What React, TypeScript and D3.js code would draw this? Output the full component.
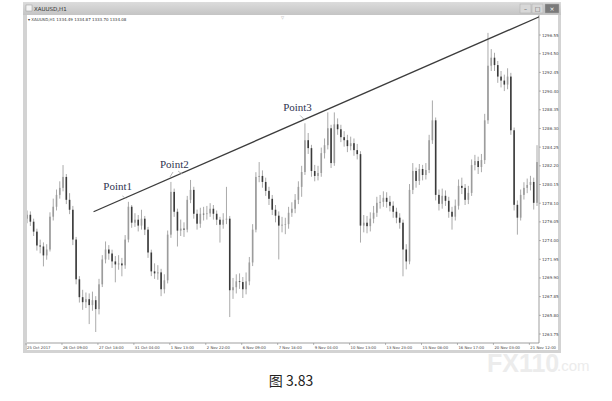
import React, { useEffect, useRef } from 'react';
import * as d3 from 'd3';

// XAUUSD H1, one candle per 3 hourly bars
const firstOpen = 1276.4;
const closes = [
  1276.83, 1276.07, 1274.98, 1273.46, 1273.35, 1272.37, 1273.02, 1276.62, 1277.71, 1279.01,
  1279.78, 1280.98, 1278.47, 1277.38, 1274.11, 1269.75, 1267.79, 1267.24, 1267.57, 1266.92,
  1267.46, 1266.48, 1269.2, 1271.93, 1273.02, 1272.58, 1271.71, 1271.38, 1271.49, 1271.28,
  1274.11, 1277.71, 1275.96, 1276.29, 1275.64, 1276.4, 1275.2, 1272.69, 1270.62, 1270.4,
  1270.51, 1268.66, 1269.64, 1274.65, 1279.34, 1277.16, 1275.09, 1275.31, 1275.2, 1278.47,
  1279.56, 1276.94, 1275.85, 1276.94, 1276.9, 1276.98, 1277.49, 1276.94, 1276.29, 1275.74,
  1276.29, 1276.4, 1268.55, 1268.88, 1269.53, 1269.45, 1268.66, 1269.53, 1271.6, 1275.2,
  1280.98, 1281.09, 1280.43, 1279.45, 1278.58, 1277.38, 1276.73, 1275.64, 1275.74, 1275.8,
  1277.05, 1277.49, 1278.47, 1279.89, 1281.52, 1285.01, 1284.14, 1281.63, 1281.09, 1281.41,
  1283.59, 1284.46, 1286.32, 1282.5, 1286.75, 1286.21, 1285.34, 1285.01, 1284.36, 1284.68,
  1283.92, 1283.48, 1275.64, 1275.96, 1275.58, 1276.4, 1277.05, 1278.14, 1278.25, 1278.69,
  1278.25, 1277.82, 1277.16, 1276.51, 1275.96, 1273.02, 1271.71, 1279.56, 1281.63, 1280.54,
  1281.85, 1281.19, 1281.74, 1285.01, 1287.19, 1279.01, 1278.03, 1278.91, 1278.36, 1277.16,
  1276.62, 1277.82, 1280.0, 1279.78, 1278.47, 1279.23, 1282.28, 1282.72, 1282.07, 1282.83,
  1287.19, 1293.18, 1294.06, 1293.25, 1291.99, 1291.55, 1291.11, 1291.99, 1286.1, 1277.92,
  1276.51, 1279.01, 1279.78, 1280.1, 1280.43, 1278.14, 1282.61,
];
const highs = [
  1277.3, 1277.2, 1276.4, 1275.3, 1274.1, 1273.8, 1273.6, 1277.1, 1278.6, 1279.6,
  1280.5, 1282.28, 1281.3, 1279.2, 1277.8, 1274.4, 1270.1, 1268.6, 1268.3, 1268.2,
  1268.4, 1267.9, 1269.8, 1272.4, 1273.9, 1273.5, 1273.0, 1272.3, 1272.4, 1272.1,
  1274.6, 1278.25, 1277.9, 1277.0, 1276.8, 1277.38, 1276.7, 1275.5, 1273.0, 1271.5,
  1271.3, 1270.9, 1270.3, 1275.1, 1280.43, 1279.7, 1277.5, 1276.3, 1276.0, 1278.9,
  1280.65, 1279.9, 1277.4, 1277.6, 1277.7, 1277.8, 1278.1, 1277.9, 1277.3, 1276.6,
  1277.0, 1279.89, 1276.7, 1269.9, 1270.3, 1270.4, 1270.0, 1270.5, 1272.2, 1275.8,
  1281.5, 1282.61, 1281.7, 1280.9, 1279.9, 1279.0, 1277.9, 1277.2, 1276.6, 1276.5,
  1277.7, 1278.2, 1279.1, 1280.5, 1282.2, 1286.86, 1285.8, 1284.5, 1282.3, 1282.2,
  1284.2, 1285.2, 1288.06, 1286.7, 1288.06, 1287.4, 1286.7, 1286.0, 1285.6, 1285.4,
  1285.2, 1284.6, 1283.8, 1276.8, 1276.7, 1277.1, 1277.8, 1278.8, 1279.0, 1279.4,
  1279.3, 1278.9, 1278.3, 1277.6, 1277.0, 1276.3, 1273.6, 1280.2, 1282.5, 1282.0,
  1282.4, 1282.3, 1282.5, 1285.6, 1289.37, 1287.5, 1279.6, 1279.7, 1279.5, 1278.8,
  1277.7, 1278.5, 1280.7, 1280.9, 1280.2, 1280.0, 1282.9, 1283.4, 1283.2, 1283.5,
  1287.9, 1296.78, 1295.0, 1294.6, 1293.7, 1292.6, 1292.2, 1292.9, 1292.4, 1286.4,
  1278.4, 1279.6, 1280.4, 1280.8, 1281.1, 1280.9, 1284.46,
];
const lows = [
  1275.9, 1275.6, 1274.5, 1272.9, 1272.6, 1271.17, 1271.9, 1272.8, 1276.2, 1277.3,
  1278.6, 1279.4, 1278.0, 1276.9, 1273.5, 1269.2, 1267.2, 1266.4, 1266.6, 1264.84,
  1266.3, 1263.97, 1265.9, 1268.9, 1271.5, 1271.9, 1271.0, 1269.42, 1270.8, 1270.08,
  1270.9, 1273.8, 1275.4, 1275.5, 1275.0, 1275.2, 1274.6, 1272.1, 1270.1, 1269.8,
  1269.7, 1267.9, 1268.2, 1269.3, 1274.3, 1276.6, 1273.35, 1274.5, 1274.4, 1274.9,
  1278.1, 1276.4, 1275.2, 1275.4, 1276.2, 1276.3, 1276.6, 1276.3, 1275.7, 1273.78,
  1275.3, 1275.8, 1265.61, 1267.6, 1268.2, 1268.7, 1267.7, 1268.1, 1269.1, 1271.2,
  1274.9, 1280.4, 1279.8, 1278.9, 1277.9, 1276.8, 1276.0, 1271.93, 1274.9, 1274.7,
  1275.3, 1276.6, 1277.0, 1278.0, 1278.8, 1281.2, 1283.5, 1281.0, 1280.5, 1280.6,
  1281.0, 1283.0, 1284.0, 1281.96, 1282.2, 1285.6, 1284.8, 1284.3, 1283.7, 1283.9,
  1283.3, 1282.9, 1273.78, 1274.9, 1274.8, 1275.0, 1275.9, 1276.6, 1277.5, 1277.7,
  1277.6, 1277.2, 1276.5, 1275.9, 1275.3, 1270.08, 1270.84, 1271.4, 1279.1, 1279.8,
  1280.1, 1280.6, 1280.7, 1281.4, 1284.6, 1278.4, 1277.3, 1277.5, 1277.8, 1276.5,
  1275.2, 1276.2, 1277.4, 1279.1, 1277.9, 1278.0, 1278.9, 1281.7, 1281.3, 1281.5,
  1282.4, 1286.8, 1292.6, 1292.6, 1291.3, 1290.8, 1290.4, 1290.6, 1285.6, 1277.3,
  1274.65, 1276.2, 1278.5, 1279.2, 1279.5, 1277.4, 1277.8,
];

const priceTicks = [
  1263.75, 1265.8, 1267.85, 1269.9, 1271.95, 1274.0, 1276.05, 1278.1, 1280.15,
  1282.2, 1284.25, 1286.3, 1288.35, 1290.4, 1292.45, 1294.5, 1296.55,
];
const timeLabels = [
  '25 Oct 2017', '26 Oct 09:00', '27 Oct 18:00', '31 Oct 04:00', '1 Nov 13:00',
  '2 Nov 22:00', '6 Nov 09:00', '7 Nov 18:00', '9 Nov 04:00', '10 Nov 13:00',
  '13 Nov 23:00', '15 Nov 08:00', '16 Nov 17:00', '20 Nov 03:00', '21 Nov 12:00',
];
const timeLabelHours = [0, 33, 66, 99, 132, 165, 198, 231, 264, 297, 330, 363, 396, 429, 462];

// trendline anchors (hour, price)
const trendHours = [62, 472];
const trendPrices = [1277.16, 1298.6];

const pointNames = ['Point1', 'Point2', 'Point3'];
const pointHours = [71, 123, 236];
const pointPrices = [1279.56, 1281.96, 1288.17];

const W = 612;
const H = 401;
const plot = { left: 27, right: 539, top: 15, bottom: 343 };

const App: React.FC = () => {
  const svgRef = useRef<SVGSVGElement>(null);

  useEffect(() => {
    if (!svgRef.current) return;
    const svg = d3.select(svgRef.current);
    svg.selectAll('*').remove();

    const x = d3.scaleLinear().domain([0, 469]).range([26, 537]);
    const y = d3.scaleLinear().domain([1263.75, 1296.55]).range([334, 35]);

    // window frame
    svg.append('rect').attr('x', 23).attr('y', 2).attr('width', 538).attr('height', 351).attr('fill', '#d3d3d3');
    const grad = svg.append('defs').append('linearGradient').attr('id', 'tb').attr('x1', 0).attr('y1', 0).attr('x2', 0).attr('y2', 1);
    grad.append('stop').attr('offset', '0%').attr('stop-color', '#dcdcdc');
    grad.append('stop').attr('offset', '100%').attr('stop-color', '#c4c4c4');
    svg.append('rect').attr('x', 23).attr('y', 2).attr('width', 538).attr('height', 13).attr('fill', 'url(#tb)');
    svg.append('rect').attr('x', 26).attr('y', 5).attr('width', 6).attr('height', 6).attr('fill', '#f4f4f4').attr('stroke', '#999').attr('stroke-width', 0.5);
    svg.append('text').attr('x', 34).attr('y', 11).attr('font-family', 'DejaVu Sans, sans-serif').attr('font-size', 5.5).attr('fill', '#333').text('XAUUSD,H1');

    // title buttons
    const btns = [{ x: 520, t: '–', fill: '#d8d8d8', c: '#555' }, { x: 532, t: '□', fill: '#d8d8d8', c: '#555' }, { x: 545, t: '×', fill: '#7a7a7a', c: '#fff' }];
    btns.forEach((b, i) => {
      const w = i === 2 ? 14 : 11;
      svg.append('rect').attr('x', b.x).attr('y', 4).attr('width', w).attr('height', 9).attr('fill', b.fill).attr('stroke', '#aaa').attr('stroke-width', 0.5);
      svg.append('text').attr('x', b.x + w / 2).attr('y', 11).attr('text-anchor', 'middle').attr('font-family', 'DejaVu Sans, sans-serif').attr('font-size', 6).attr('fill', b.c).text(b.t);
    });

    svg.append('rect').attr('x', 27).attr('y', 15).attr('width', 531).attr('height', 335).attr('fill', '#fff');

    // info line
    svg.append('text').attr('x', 28).attr('y', 20.5).attr('font-family', 'DejaVu Sans, sans-serif').attr('font-size', 4).attr('fill', '#333')
      .text('▾ XAUUSD,H1  1334.49 1334.87 1333.70 1334.08');
    svg.append('text').attr('x', 282).attr('y', 19).attr('text-anchor', 'middle').attr('font-size', 4).attr('fill', '#999').text('▽');

    // axes
    svg.append('line').attr('x1', plot.right).attr('x2', plot.right).attr('y1', plot.top).attr('y2', plot.bottom).attr('stroke', '#777').attr('stroke-width', 0.7);
    svg.append('line').attr('x1', plot.left).attr('x2', plot.right).attr('y1', plot.bottom).attr('y2', plot.bottom).attr('stroke', '#777').attr('stroke-width', 0.7);

    const yAx = svg.append('g').attr('font-family', 'DejaVu Sans, sans-serif').attr('font-size', 4).attr('fill', '#444');
    priceTicks.forEach((p) => {
      yAx.append('line').attr('x1', plot.right).attr('x2', plot.right + 2).attr('y1', y(p)).attr('y2', y(p)).attr('stroke', '#777').attr('stroke-width', 0.5);
      yAx.append('text').attr('x', plot.right + 3).attr('y', y(p) + 1.5).text(p.toFixed(2));
    });

    const xAx = svg.append('g').attr('font-family', 'DejaVu Sans, sans-serif').attr('font-size', 3.8).attr('fill', '#444');
    timeLabels.forEach((t, i) => {
      const px = x(timeLabelHours[i]);
      xAx.append('line').attr('x1', px).attr('x2', px).attr('y1', plot.bottom).attr('y2', plot.bottom + 2).attr('stroke', '#777').attr('stroke-width', 0.5);
      xAx.append('text').attr('x', px + 1).attr('y', plot.bottom + 6).text(t);
    });

    // candles
    svg.append('clipPath').attr('id', 'plotclip').append('rect')
      .attr('x', plot.left).attr('y', plot.top).attr('width', plot.right - plot.left).attr('height', plot.bottom - plot.top);
    const g = svg.append('g').attr('clip-path', 'url(#plotclip)');
    const candles = closes.map((c, i) => ({ o: i === 0 ? firstOpen : closes[i - 1], c, h: highs[i], l: lows[i], hour: i * 3 + 1 }));
    candles.forEach((d) => {
      const cx = x(d.hour);
      g.append('line').attr('x1', cx).attr('x2', cx).attr('y1', y(d.h)).attr('y2', y(d.l)).attr('stroke', '#a0a0a0').attr('stroke-width', 0.9);
      const top = y(Math.max(d.o, d.c));
      const bot = y(Math.min(d.o, d.c));
      g.append('rect').attr('x', cx - 0.8).attr('width', 1.6).attr('y', top).attr('height', Math.max(0.6, bot - top))
        .attr('fill', d.c >= d.o ? '#9c9c9c' : '#3a3a3a');
    });

    // trendline
    const trend = trendHours.map((h, i) => ({ h, p: trendPrices[i] }));
    g.append('path').datum(trend).attr('fill', 'none').attr('stroke', '#3c3c3c').attr('stroke-width', 1.3)
      .attr('d', d3.line<{ h: number; p: number }>().x((d) => x(d.h)).y((d) => y(d.p)));

    // point labels
    pointNames.forEach((n, i) => {
      const px = x(pointHours[i]);
      const py = y(pointPrices[i]);
      svg.append('text').attr('x', px).attr('y', py).attr('font-family', 'Liberation Serif, serif').attr('font-size', 11).attr('fill', '#2f3350').text(n);
    });
    const marks = [
      [x(pointHours[0]) + 19, y(pointPrices[0]) + 6, x(pointHours[0]) + 23, y(pointPrices[0]) + 9],
      [x(pointHours[1]) + 13, y(pointPrices[1]) + 4, x(pointHours[1]) + 10, y(pointPrices[1]) + 9],
      [x(pointHours[1]) + 18, y(pointPrices[1]) + 3, x(pointHours[1]) + 22, y(pointPrices[1]) + 6],
      [x(pointHours[2]) + 17, y(pointPrices[2]) + 4, x(pointHours[2]) + 21, y(pointPrices[2]) + 8],
    ];
    marks.forEach((m) => {
      svg.append('line').attr('x1', m[0]).attr('y1', m[1]).attr('x2', m[2]).attr('y2', m[3]).attr('stroke', '#aaa').attr('stroke-width', 0.8);
    });

    // watermark
    svg.append('text').attr('x', 487).attr('y', 372).attr('font-family', 'Liberation Sans, sans-serif').attr('font-weight', 'bold').attr('font-size', 25).attr('fill', '#ececec').text('FX110');
    svg.append('text').attr('x', 557).attr('y', 371).attr('font-family', 'Liberation Sans, sans-serif').attr('font-size', 15).attr('fill', '#ececec').text('.com');

    // caption
    svg.append('text').attr('x', 291).attr('y', 386).attr('text-anchor', 'middle').attr('font-family', 'Noto Sans CJK SC, sans-serif').attr('font-size', 14).attr('fill', '#222').text('图 3.83');
  }, []);

  return (
    <div style={{ position: 'absolute', left: 0, top: 0 }}>
      <svg ref={svgRef} width={W} height={H} style={{ display: 'block', background: '#fff' }}></svg>
    </div>
  );
};

export default App;
